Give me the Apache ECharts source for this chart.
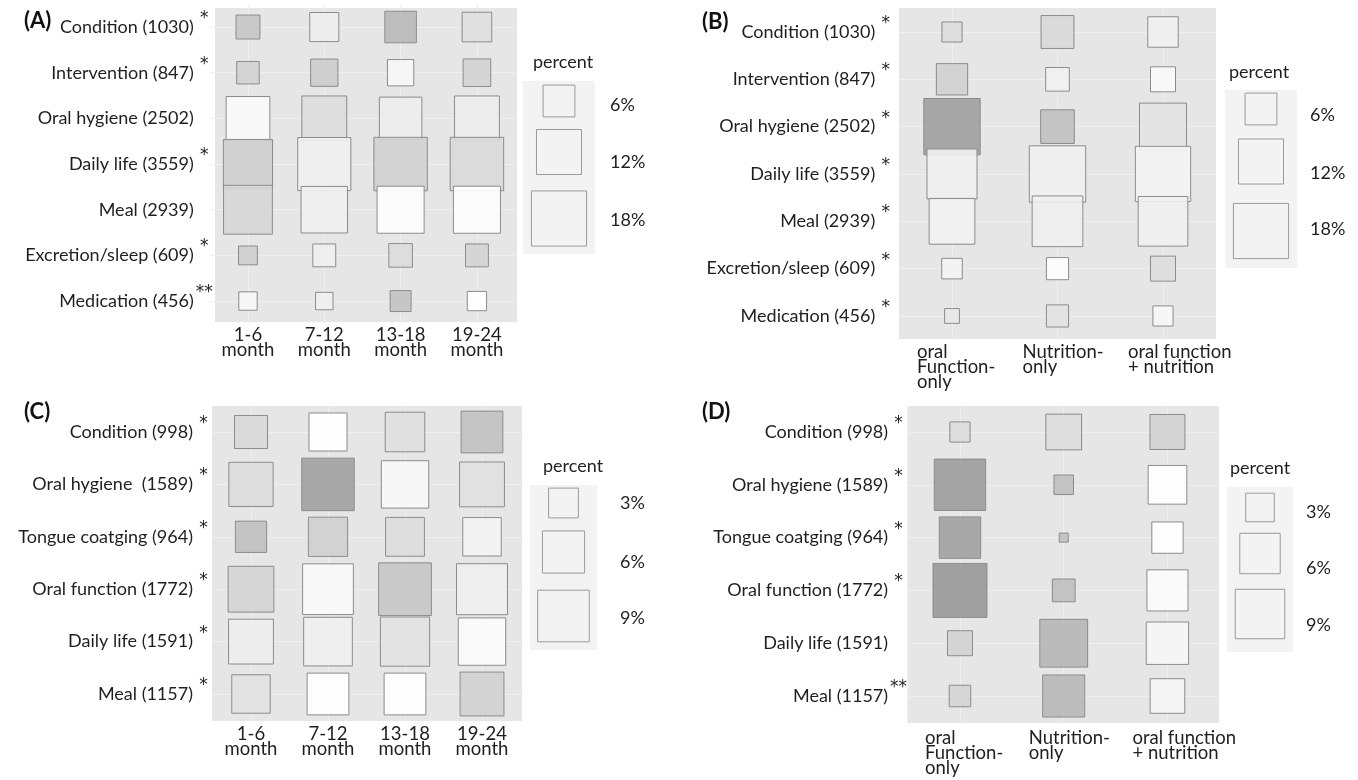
<!DOCTYPE html>
<html><head><meta charset="utf-8">
<script src="https://cdn.jsdelivr.net/npm/echarts@6/dist/echarts.min.js"></script>
<style>html,body{margin:0;padding:0;background:#fff}#c{width:1358px;height:780px}</style>
</head><body><div id="c"></div>
<script>
// ---------- Panel A ----------
const rowsA = ['Condition (1030)','Intervention (847)','Oral hygiene (2502)','Daily life (3559)','Meal (2939)','Excretion/sleep (609)','Medication (456)'];
const sigA = ['*','*','','*','','*','**'];
const colsA = ['1-6\nmonth','7-12\nmonth','13-18\nmonth','19-24\nmonth'];
const pctA = [
  [3.4,5.0,5.9,5.2],
  [3.0,4.4,4.1,4.5],
  [11.3,11.9,10.7,11.9],
  [14.3,16.7,16.9,16.9],
  [14.1,12.8,13.1,13.1],
  [2.1,3.1,3.3,3.1],
  [2.0,1.8,2.6,2.2]
];
const shadeA = [
  [.55,.19,.66,.31],
  [.43,.48,.10,.42],
  [.08,.33,.19,.20],
  [.47,.16,.45,.37],
  [.39,.16,.03,.03],
  [.47,.18,.35,.42],
  [.10,.17,.57,.02]
];
const legendA = [6,12,18];

// ---------- Panel B ----------
const rowsB = rowsA;
const sigB = ['*','*','*','*','*','*','*'];
const colsB = ['oral\nFunction-\nonly','Nutrition-\nonly','oral function\n+ nutrition'];
const pctB = [
  [2.4,6.4,5.5],
  [5.8,3.3,3.7],
  [18.8,6.7,13.1],
  [14.8,18.8,18.1],
  [12.4,15.2,14.6],
  [2.5,2.9,3.7],
  [1.3,2.9,2.4]
];
const shadeB = [
  [.35,.38,.16],
  [.45,.15,.07],
  [.90,.59,.28],
  [.17,.16,.12],
  [.15,.18,.16],
  [.12,.04,.33],
  [.23,.29,.10]
];
const legendB = [6,12,18];

// ---------- Panel C ----------
const rowsC = ['Condition (998)','Oral hygiene  (1589)','Tongue coatging (964)','Oral function (1772)','Daily life (1591)','Meal (1157)'];
const sigC = ['*','*','*','*','*','*'];
const colsC = colsA;
const pctC = [
  [3.7,4.9,5.3,5.9],
  [6.6,9.3,7.6,6.8],
  [3.3,5.2,5.1,5.0],
  [7.1,8.7,9.4,8.8],
  [6.8,8.0,8.2,7.6],
  [5.0,5.9,5.9,6.5]
];
const shadeC = [
  [.38,.02,.31,.58],
  [.35,.87,.09,.30],
  [.59,.46,.33,.12],
  [.41,.07,.54,.18],
  [.19,.16,.29,.05],
  [.29,.02,.02,.45]
];
const legendC = [3,6,9];

// ---------- Panel D ----------
const rowsD = ['Condition (998)','Oral hygiene (1589)','Tongue coatging (964)','Oral function (1772)','Daily life (1591)','Meal (1157)'];
const sigD = ['*','*','*','*','','**'];
const colsD = colsB;
const pctD = [
  [1.5,4.7,4.5],
  [9.7,1.4,5.5],
  [6.3,0.3,3.6],
  [10.7,1.9,6.2],
  [2.3,8.4,6.6],
  [1.7,6.5,4.4]
];
const shadeD = [
  [.35,.35,.42],
  [.92,.60,.02],
  [.87,.59,.01],
  [.95,.60,.05],
  [.44,.68,.11],
  [.41,.67,.11]
];
const legendD = [3,6,9];

// ---------- layout / style ----------
const FONT = 'Lato';
const TXT = '#1f1f1f';
const panels = [
  {rows: rowsA, sig: sigA, cols: colsA, pct: pctA, shade: shadeA, leg: legendA, k: 13.0,
   grid: {left: 209.8, top: 4.2, width: 305.3, height: 319.7}, bg: [215, 8, 302, 314],
   yMargin: -3, xMargin: 4, wrapX: false, title: '(A)', tpos: [24, 21],
   L: {x: 523, y: 81, w: 72, h: 173, box: [20, 71, 137.5], lab: [24, 81, 139], lx: 610, tx: 533, ty: 62}},
  {rows: rowsB, sig: sigB, cols: colsB, pct: pctB, shade: shadeB, leg: legendB, k: 13.0,
   grid: {left: 899.25, top: 8.33, width: 316.5, height: 331.3}, bg: [899, 8, 317, 331],
   yMargin: 5, xMargin: 5, wrapX: true, title: '(B)', tpos: [702, 22],
   L: {x: 1225, y: 90, w: 72, h: 178, box: [19, 71.5, 141], lab: [25, 83, 139], lx: 1310, tx: 1229, ty: 72}},
  {rows: rowsC, sig: sigC, cols: colsC, pct: pctC, shade: shadeC, leg: legendC, k: 17.2,
   grid: {left: 212.5, top: 405.8, width: 308, height: 314.4}, bg: [212, 406, 310, 315],
   yMargin: 0.5, xMargin: 6, wrapX: false, title: '(C)', tpos: [24, 412],
   L: {x: 530, y: 485, w: 67, h: 165, box: [18, 67, 131], lab: [18, 77, 133], lx: 620, tx: 543, ty: 466}},
  {rows: rowsD, sig: sigD, cols: colsD, pct: pctD, shade: shadeD, leg: legendD, k: 16.5,
   grid: {left: 908.1, top: 405.6, width: 311.25, height: 316.8}, bg: [907.5, 406, 311.5, 317],
   yMargin: 1, xMargin: 8, wrapX: true, title: '(D)', tpos: [702, 412],
   L: {x: 1227, y: 487, w: 66, h: 165, box: [20.5, 66.5, 127], lab: [25, 81, 138], lx: 1306, tx: 1230, ty: 468}}
];

function fillOf(shade) {
  const t = 255 - shade * 100;
  const g = Math.max(0, Math.min(255, Math.round((t - 23) / 0.9)));
  return 'rgba(' + g + ',' + g + ',' + g + ',0.9)';
}

const grids = [], xAxes = [], yAxes = [], series = [], graphics = [];
panels.forEach((P, gi) => {
  grids.push(Object.assign({containLabel: false}, P.grid));
  const xLabel = {
    interval: 0, margin: P.xMargin, color: TXT, fontFamily: FONT, fontSize: 18.5, lineHeight: 15
  };
  if (P.wrapX) {
    xLabel.formatter = v => v.split('\n').map(l => '{a|' + l + '}').join('\n');
    xLabel.rich = {a: {width: 70, align: 'left', fontFamily: FONT, fontSize: 18.5, lineHeight: 15, color: TXT}};
  }
  xAxes.push({
    type: 'category', gridIndex: gi, data: P.cols,
    axisLine: {show: false}, axisTick: {show: false},
    splitLine: {show: true, alignWithLabel: true, lineStyle: {color: '#efefef', width: 1}},
    axisLabel: xLabel
  });
  const sig = P.sig;
  yAxes.push({
    type: 'category', gridIndex: gi, data: P.rows, inverse: true,
    axisLine: {show: false}, axisTick: {show: false},
    splitLine: {show: true, alignWithLabel: true, lineStyle: {color: '#efefef', width: 1}},
    axisLabel: {
      interval: 0, margin: P.yMargin,
      formatter: (v, i) => '{t|' + v + '}{s|' + (sig[i] || ' ') + '}',
      rich: {
        t: {fontFamily: FONT, fontSize: 18, lineHeight: 34, color: TXT},
        s: {fontFamily: 'DejaVu Sans', fontSize: 17, lineHeight: 22, verticalAlign: 'top', width: 17, align: 'left', color: TXT, padding: [0, 0, 0, 2]}
      }
    }
  });
  const data = [];
  P.pct.forEach((row, r) => row.forEach((v, c) => data.push([c, r, v, P.shade[r][c]])));
  const k = P.k;
  series.push({
    type: 'custom', xAxisIndex: gi, yAxisIndex: gi, data: data,
    encode: {x: 0, y: 1},
    renderItem: function (params, api) {
      const p = api.coord([api.value(0), api.value(1)]);
      const s = k * Math.sqrt(api.value(2));
      return {
        type: 'rect',
        shape: {x: p[0] - s / 2, y: p[1] - s / 2, width: s, height: s},
        style: {fill: fillOf(api.value(3)), stroke: '#8c8c8c', lineWidth: 1}
      };
    }
  });
  graphics.push({type: 'rect', z: -1, shape: {x: P.bg[0], y: P.bg[1], width: P.bg[2], height: P.bg[3]},
    style: {fill: '#e6e6e6'}, silent: true});
  graphics.push({type: 'text', x: P.tpos[0], y: P.tpos[1],
    style: {text: P.title, font: 'bold 22px ' + FONT, fill: '#111', textVerticalAlign: 'middle'}});
  const L = P.L;
  graphics.push({type: 'rect', z: -1, shape: {x: L.x, y: L.y, width: L.w, height: L.h}, style: {fill: '#f3f3f3'}});
  graphics.push({type: 'text', x: L.tx, y: L.ty,
    style: {text: 'percent', font: '18px ' + FONT, fill: TXT, textVerticalAlign: 'middle'}});
  P.leg.forEach((v, i) => {
    const s = k * Math.sqrt(v);
    const cx = L.x + L.w / 2, cy = L.y + L.box[i];
    graphics.push({type: 'rect', shape: {x: cx - s / 2, y: cy - s / 2, width: s, height: s},
      style: {fill: '#f3f3f3', stroke: '#9a9a9a', lineWidth: 1}});
    graphics.push({type: 'text', x: L.lx, y: L.y + L.lab[i],
      style: {text: v + '%', font: '18px ' + FONT, fill: TXT, textVerticalAlign: 'middle'}});
  });
});

const chart = echarts.init(document.getElementById('c'), null, {renderer: 'canvas'});
chart.setOption({
  backgroundColor: '#ffffff',
  animation: false,
  grid: grids, xAxis: xAxes, yAxis: yAxes, series: series,
  graphic: {elements: graphics}
});
</script></body></html>
